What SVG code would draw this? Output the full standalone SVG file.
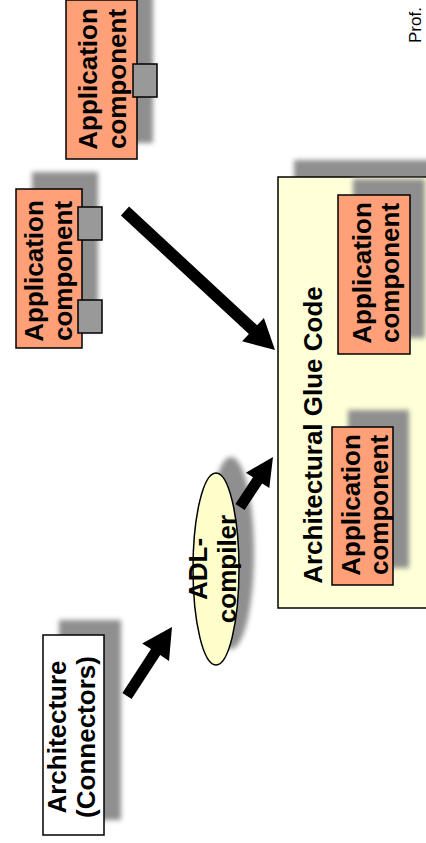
<svg xmlns="http://www.w3.org/2000/svg" width="426" height="843" viewBox="0 0 426 843">
<defs>
<filter id="blur" x="-20%" y="-20%" width="140%" height="140%"><feGaussianBlur stdDeviation="2.5"/></filter>
</defs>
<style>
.shadow{fill:#8f8f8f;filter:url(#blur)}
.comp{fill:#FFA078;stroke:#000;stroke-width:1.5}
.port{fill:#999999;stroke:#000;stroke-width:1.5}
.box{fill:#ffffff;stroke:#000;stroke-width:1.5}
.glue{fill:#FFFFD8;stroke:#000;stroke-width:1.5}
.ell{fill:#FFFFCC;stroke:#000;stroke-width:1.5}
text{font-family:"Liberation Sans",Arial,sans-serif;font-weight:bold;font-size:26px;fill:#000}
.arrow{fill:#000}
</style>
<rect width="426" height="843" fill="#fff"/>

<g id="glue-code">
<rect class="shadow" x="294" y="160" width="160" height="431"/>
<rect class="glue" x="278" y="177" width="160" height="431"/>
<text transform="translate(322,435) rotate(-90)" text-anchor="middle">Architectural Glue Code</text>
</g>

<g id="inner-component-1">
<rect class="shadow" x="353" y="179" width="72" height="159"/>
<rect class="comp" x="338" y="195" width="72" height="159"/>
<text transform="translate(371,273) rotate(-90)" text-anchor="middle"><tspan x="0" y="0">Application</tspan><tspan x="0" y="28">component</tspan></text>
</g>

<g id="inner-component-2">
<rect class="shadow" x="348" y="410" width="61" height="158"/>
<rect class="comp" x="332" y="427" width="61" height="158"/>
<text transform="translate(360,505) rotate(-90)" text-anchor="middle"><tspan x="0" y="0">Application</tspan><tspan x="0" y="28">component</tspan></text>
</g>

<g id="app-component-top">
<rect class="shadow" x="82" y="-16" width="71" height="159"/>
<rect class="comp" x="66" y="0" width="71" height="159"/>
<rect class="port" x="133" y="64" width="24" height="33"/>
<text transform="translate(97,79) rotate(-90)" text-anchor="middle"><tspan x="0" y="0">Application</tspan><tspan x="0" y="29">component</tspan></text>
</g>

<g id="app-component-mid">
<rect class="shadow" x="32" y="172" width="66" height="159"/>
<rect class="comp" x="16" y="189" width="66" height="159"/>
<rect class="port" x="78" y="207" width="24" height="33"/>
<rect class="port" x="78" y="300" width="24" height="33"/>
<text transform="translate(43,271) rotate(-90)" text-anchor="middle"><tspan x="0" y="0">Application</tspan><tspan x="0" y="29">component</tspan></text>
</g>

<g id="architecture">
<rect class="shadow" x="59" y="620" width="62" height="200"/>
<rect class="box" x="43" y="635" width="61" height="200"/>
<text transform="translate(66,737) rotate(-90)" text-anchor="middle"><tspan x="0" y="0">Architecture</tspan><tspan x="0" y="29">(Connectors)</tspan></text>
</g>

<g id="adl-compiler">
<ellipse class="shadow" cx="231" cy="553" rx="23" ry="96"/>
<ellipse class="ell" cx="216" cy="569" rx="23" ry="96"/>
<text transform="translate(207,569) rotate(-90)" text-anchor="middle"><tspan x="0" y="0">ADL-</tspan><tspan x="0" y="29">compiler</tspan></text>
</g>

<g id="connectors">
<polygon class="arrow" points="122.4,693 151,649.1 142.2,643.4 172,627 169,660.9 160.2,655.1 131.6,699"/>
<polygon class="arrow" points="235.4,504 253,477.3 245.9,472.7 273,457 269.3,488.1 262.2,483.4 244.6,510"/>
<polygon class="arrow" points="129.1,206.6 257.1,325.2 263.9,317.9 275,350 242.1,341.3 248.9,334 120.9,215.4"/>
</g>

<text transform="translate(421,43) rotate(-90)" style="font-weight:normal;font-size:17px">Prof.</text>
</svg>
